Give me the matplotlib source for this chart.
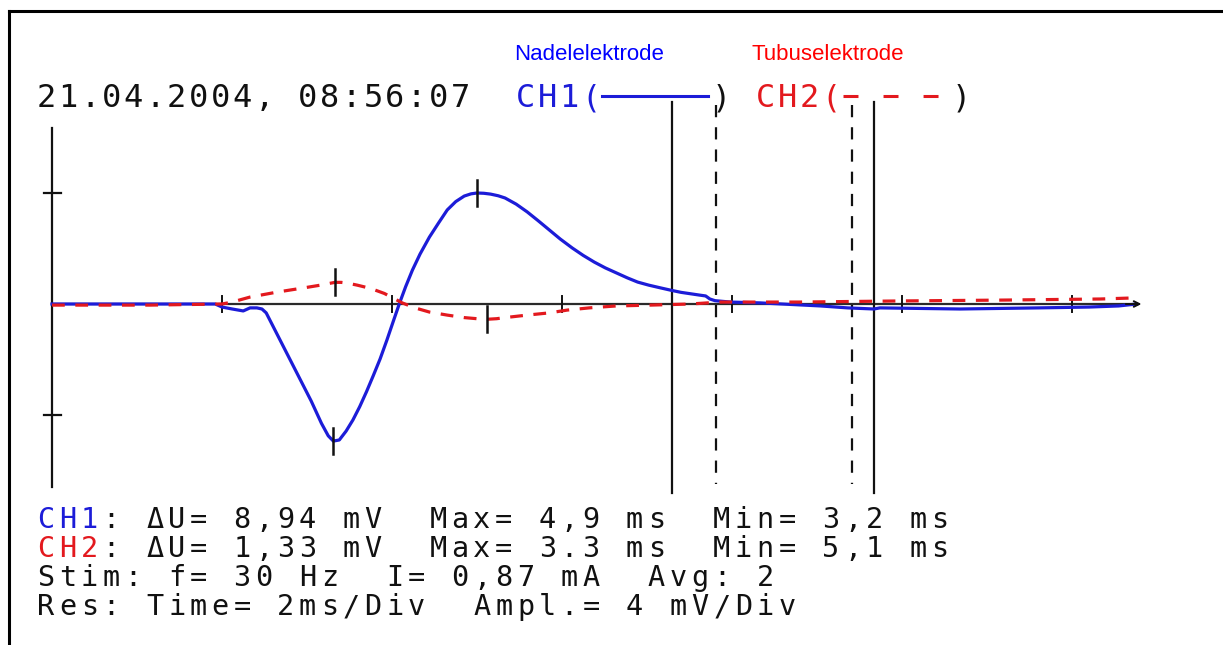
import matplotlib
matplotlib.use("Agg")
import matplotlib.pyplot as plt
from matplotlib.lines import Line2D
import numpy as np

# CH1 - Nadelelektrode (time in ms, amplitude in mV)
ch1_t = [0.00, 0.80, 1.51, 1.92, 2.00, 2.12, 2.25, 2.33, 2.41, 2.47, 2.52,
         2.60, 2.75, 2.90, 3.05, 3.17, 3.25, 3.31,
         3.38, 3.46, 3.54, 3.62, 3.70, 3.78, 3.86, 3.94, 4.02, 4.09, 4.16, 4.24,
         4.33, 4.44, 4.55, 4.65, 4.75, 4.85, 4.93, 5.00,
         5.08, 5.16, 5.25, 5.33, 5.46, 5.59, 5.72, 5.85, 5.98, 6.12, 6.25, 6.38,
         6.51, 6.64, 6.77, 6.89, 7.02, 7.16, 7.29, 7.40, 7.51, 7.62, 7.69, 7.74,
         7.80, 7.98, 8.33, 9.04, 9.36, 9.67, 9.74, 10.68, 11.61, 12.20, 12.55, 12.76]
ch1_u = [0.00, 0.00, 0.00, 0.00, -0.11, -0.18, -0.25, -0.14, -0.14, -0.18, -0.32,
         -0.80, -1.70, -2.60, -3.50, -4.30, -4.75, -4.94,
         -4.90, -4.58, -4.18, -3.70, -3.16, -2.58, -1.98, -1.30, -0.58, 0.04, 0.62, 1.22,
         1.80, 2.41, 2.93, 3.39, 3.69, 3.89, 3.97, 4.00,
         3.99, 3.96, 3.90, 3.82, 3.60, 3.32, 3.00, 2.67, 2.34, 2.02, 1.75, 1.51,
         1.30, 1.12, 0.94, 0.79, 0.68, 0.58, 0.49, 0.42, 0.37, 0.32, 0.29, 0.18,
         0.12, 0.07, 0.04, -0.07, -0.14, -0.18, -0.14, -0.18, -0.14, -0.11, -0.07, 0.00]

# CH2 - Tubuselektrode
ch2_t = [0.00, 1.15, 2.00, 2.12, 2.33, 2.65, 2.96, 3.16, 3.26, 3.33, 3.40, 3.48,
         3.59, 3.75, 3.91, 4.01, 4.12, 4.27, 4.44, 4.65, 4.85, 5.00, 5.12, 5.23,
         5.33, 5.59, 5.85, 6.06, 6.32, 6.64, 7.04, 7.51, 7.86, 8.80, 9.98, 11.15,
         12.33, 12.74]
ch2_u = [-0.04, -0.04, 0.00, 0.07, 0.25, 0.43, 0.58, 0.68, 0.74, 0.78, 0.78, 0.75,
         0.68, 0.56, 0.38, 0.22, 0.04, -0.14, -0.29, -0.40, -0.49, -0.53, -0.55, -0.53,
         -0.49, -0.40, -0.32, -0.22, -0.14, -0.07, -0.04, 0.00, 0.07, 0.07, 0.11, 0.14,
         0.18, 0.22]

cursor_solid = [7.29, 9.67]
cursor_dashed = [7.81, 9.41]
time_ticks = [2, 4, 6, 8, 10, 12]
ampl_ticks = [4, -4]

BLUE = "#1c1cd8"
RED = "#e3191e"
INK = "#111111"

header = [("21.04.2004, 08:56:07  ", INK), ("CH1(", BLUE), ("     ", INK), (")", INK),
          (" ", INK), ("CH2(", RED), ("     ", INK), (")", INK)]
rows = [
    [("CH1", BLUE), (": ΔU= 8,94 mV  Max= 4,9 ms  Min= 3,2 ms", INK)],
    [("CH2", RED), (": ΔU= 1,33 mV  Max= 3.3 ms  Min= 5,1 ms", INK)],
    [("Stim: f= 30 Hz  I= 0,87 mA  Avg: 2", INK)],
    [("Res: Time= 2ms/Div  Ampl.= 4 mV/Div", INK)],
]

W, H = 1223, 645
X0, Y0 = 52, 304        # pixel position of t=0 / U=0
PX_MS, PX_MV = 85.0, 27.75
CELL = 21.8             # printer character pitch in px
TEXT_X = 35
MONO = "DejaVu Sans Mono"

fig = plt.figure(figsize=(W / 100, H / 100), dpi=100)
fig.patch.set_facecolor("white")
ax = fig.add_axes([0, 0, 1, 1])
ax.set_xlim(-X0 / PX_MS, (W - X0) / PX_MS)
ax.set_ylim(-(H - Y0) / PX_MV, Y0 / PX_MV)
ax.axis("off")


def fx(x):
    return x / W


def fy(y):
    return 1 - y / H


def mono_line(baseline, segments, size):
    # printer output: one glyph per fixed-width cell
    i = 0
    for text, color in segments:
        for ch in text:
            if ch != " ":
                fig.text(fx(TEXT_X + (i + 0.5) * CELL), fy(baseline), ch,
                         ha="center", va="baseline", color=color, size=size,
                         family=MONO)
            i += 1


# page frame (top and left edge)
fig.add_artist(Line2D([fx(9), fx(W)], [fy(11), fy(11)], color="black", lw=2.2))
fig.add_artist(Line2D([fx(9), fx(9)], [fy(11), fy(H)], color="black", lw=2.2))

# axes of the trace
ax.plot([0, 0], [6.35, -6.6], color=INK, lw=1.6)
for u in ampl_ticks:
    ax.plot([-0.1, 0.1], [u, u], color=INK, lw=1.6)
ax.plot([0, 12.75], [0, 0], color="#2a2a2a", lw=1.6)
ax.annotate("", xy=(12.85, 0), xytext=(12.6, 0),
            arrowprops=dict(arrowstyle="->", color=INK, lw=1.4))
for t in time_ticks:
    ax.plot([t, t], [-0.3, 0.3], color=INK, lw=1.4)

# cursors
for t in cursor_solid:
    ax.plot([t, t], [7.28, -6.81], color=INK, lw=1.6)
for t in cursor_dashed:
    ax.plot([t, t], [7.17, -6.49], color=INK, lw=1.6, dashes=(5.5, 4.5))

# traces
ax.plot(ch1_t, ch1_u, color=BLUE, lw=2.3, solid_joinstyle="round")
ax.plot(ch2_t, ch2_u, color=RED, lw=2.3, dashes=(4, 3.3))

# markers at max / min of each channel
for tt, uu in ((ch1_t, ch1_u), (ch2_t, ch2_u)):
    uu = np.asarray(uu)
    for k in (uu.argmax(), uu.argmin()):
        ax.plot([tt[k], tt[k]], [uu[k] - 0.47, uu[k] + 0.47], color=INK, lw=1.8)

# header
mono_line(107, header, 23)
fig.add_artist(Line2D([fx(602), fx(708)], [fy(96), fy(96)], color=BLUE, lw=2.2))
fig.add_artist(Line2D([fx(843), fx(940)], [fy(96), fy(96)], color=RED, lw=2.2,
                      dashes=(4.9, 8.2)))
fig.text(fx(514), fy(60), "Nadelelektrode", color="#0000ff", size=16,
         family="Liberation Sans", va="baseline")
fig.text(fx(752), fy(60), "Tubuselektrode", color="#ff0000", size=16,
         family="Liberation Sans", va="baseline")

# measurement block
for n, seg in enumerate(rows):
    mono_line(528 + n * 29, seg, 20.5)

fig.savefig("out.png", dpi=100, facecolor="white")
